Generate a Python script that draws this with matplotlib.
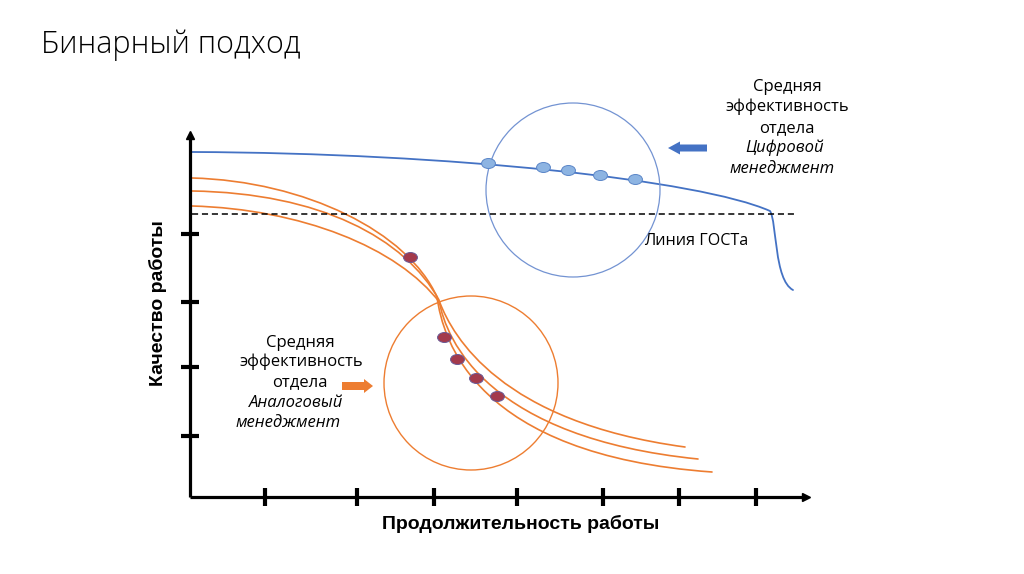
import numpy as np
import matplotlib.pyplot as plt
from matplotlib.path import Path
from matplotlib.patches import PathPatch, Circle, FancyArrow

# ------------------------------------------------------------
# Conceptual slide: "binary approach" — quality vs duration
# Coordinates are in slide pixels (x right, y down).
# ------------------------------------------------------------

BLUE = '#4472c4'
ORANGE = '#ed7d31'

# axes frame
origin = (190, 497)
x_end = 810
y_end = 131
x_ticks = [265, 357, 434, 517, 603, 679, 756]
y_ticks = [234, 302, 367, 436]

# GOST line (dashed)
gost_y = 214
gost_x = [192, 797]

# digital management curve: cubic Bezier nodes/control points
blue_curve = [(192, 152), (450, 153), (700, 180), (770, 211),
              (777, 222), (774, 280), (793, 290)]
blue_dots_x = [488, 543, 568, 600, 635]
blue_dots_y = [163, 167, 170, 175, 179]
blue_circle = (573, 190, 87)

# analogue management curves (two cubic segments each)
orange_curves = [
    [(192, 178), (305, 181), (408, 232), (437, 297),
     (443, 340), (475, 455), (712, 472)],
    [(192, 191), (320, 193), (405, 238), (439, 300),
     (446, 342), (490, 438), (698, 459)],
    [(192, 206), (300, 209), (398, 247), (440, 303),
     (453, 336), (500, 422), (685, 447)],
]
red_dots_x = [410, 444, 457, 476, 497]
red_dots_y = [257, 337, 359, 378, 396]
orange_circle = (471, 383, 87)

# text
title = 'Бинарный подход'
x_label = 'Продолжительность работы'
y_label = 'Качество работы'
gost_label = 'Линия ГОСТа'
digital_lines = ['Средняя', 'эффективность', 'отдела', 'Цифровой', 'менеджмент']
digital_x = [787, 787, 787, 785, 782]
digital_y = [87, 107, 128, 148, 169]
analog_lines = ['Средняя', 'эффективность', 'отдела', 'Аналоговый', 'менеджмент']
analog_x = [300, 301, 300, 296, 288]
analog_y = [343, 362, 382, 403, 423]
italic = [False, False, False, True, True]


def bezier_patch(pts, color, lw):
    codes = [Path.MOVETO] + [Path.CURVE4] * (len(pts) - 1)
    return PathPatch(Path(pts, codes), fill=False, edgecolor=color, lw=lw,
                     capstyle='round')


fig = plt.figure(figsize=(10.24, 5.74), dpi=100)
ax = fig.add_axes([0, 0, 1, 1])
ax.set_xlim(0, 1024)
ax.set_ylim(574, 0)
ax.set_aspect('equal')
ax.axis('off')

# axes with arrow heads and thick ticks
ax.plot([origin[0], x_end - 4], [origin[1], origin[1]], color='black', lw=2.3,
        solid_capstyle='butt')
ax.plot([origin[0], origin[0]], [origin[1], y_end + 4], color='black', lw=2.3,
        solid_capstyle='butt')
ax.plot([x_end - 4], [origin[1]], marker='>', color='black', ms=6)
ax.plot([origin[0]], [y_end + 4], marker='^', color='black', ms=6)
ax.plot(x_ticks, [origin[1]] * len(x_ticks), ls='none', marker='|',
        color='black', ms=13, mew=3)
ax.plot([origin[0]] * len(y_ticks), y_ticks, ls='none', marker='_',
        color='black', ms=13, mew=3)

# GOST dashed line
ax.plot(gost_x, [gost_y, gost_y], color='black', lw=1.1, ls=(0, (4, 2.5)))

# curves
ax.add_patch(bezier_patch(blue_curve, BLUE, 1.3))
for pts in orange_curves:
    ax.add_patch(bezier_patch(pts, ORANGE, 1.2))

# circles
ax.add_patch(Circle(blue_circle[:2], blue_circle[2], fill=False,
                    edgecolor='#7393d2', lw=0.9))
ax.add_patch(Circle(orange_circle[:2], orange_circle[2], fill=False,
                    edgecolor=ORANGE, lw=1.0))

# dots (slightly flattened ellipses)
ell = Path(Path.unit_circle().vertices * [1.0, 0.72], Path.unit_circle().codes)
ax.plot(blue_dots_x, blue_dots_y, ls='none', marker=ell, ms=10,
        mfc='#8db4e2', mec='#5b86c8', mew=0.7)
ax.plot(red_dots_x, red_dots_y, ls='none', marker=ell, ms=10,
        mfc='#a33a4c', mec='#6a5a96', mew=0.7)

# block arrows
ax.add_patch(FancyArrow(707, 148, -39, 0, width=7, head_width=13,
                        head_length=12, length_includes_head=True,
                        color=BLUE, lw=0))
ax.add_patch(FancyArrow(342, 386, 31, 0, width=8, head_width=14,
                        head_length=9, length_includes_head=True,
                        color=ORANGE, lw=0))

# text
body = ['Open Sans', 'DejaVu Sans']
bold = ['Liberation Sans', 'DejaVu Sans']
ax.text(41, 45, title, fontsize=22, family=body, fontweight='light',
        va='center', ha='left', color='black')
ax.text(521, 524, x_label, fontsize=14, family=bold,
        fontweight='bold', ha='center', va='center')
ax.text(158, 303, y_label, fontsize=14, family=bold,
        fontweight='bold', ha='center', va='center', rotation=90)
ax.text(696, 241, gost_label, fontsize=11.6, family=body, ha='center', va='center')
for s, x, y, it in zip(digital_lines, digital_x, digital_y, italic):
    ax.text(x, y, s, fontsize=12, family=body, ha='center', va='center',
            style='italic' if it else 'normal')
for s, x, y, it in zip(analog_lines, analog_x, analog_y, italic):
    ax.text(x, y, s, fontsize=12, family=body, ha='center', va='center',
            style='italic' if it else 'normal')

fig.savefig('out.png', dpi=100, facecolor='white')
